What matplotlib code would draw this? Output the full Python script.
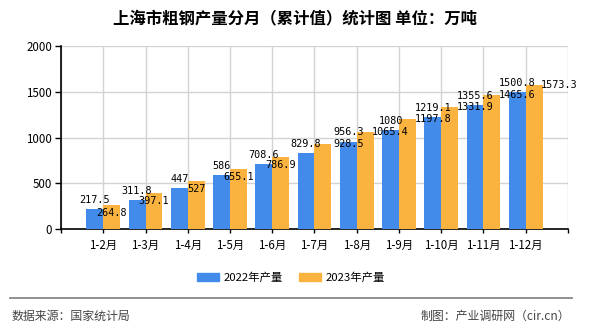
import matplotlib
matplotlib.use("Agg")
import matplotlib.pyplot as plt
from matplotlib.patches import Patch
from matplotlib.lines import Line2D

plt.rcParams['font.family'] = ['Noto Sans CJK SC', 'DejaVu Sans']

months = ["1-2月", "1-3月", "1-4月", "1-5月", "1-6月", "1-7月",
          "1-8月", "1-9月", "1-10月", "1-11月", "1-12月"]
y2022 = [217.5, 311.8, 447, 586, 708.6, 829.8, 956.3, 1080, 1219.1, 1355.6, 1500.8]
y2023 = [264.8, 397.1, 527, 655.1, 786.9, 928.5, 1065.4, 1197.8, 1331.9, 1465.6, 1573.3]
y_ticks = [0, 500, 1000, 1500, 2000]

c2022 = "#428BEA"
c2023 = "#FBB33F"

fig = plt.figure(figsize=(5.9, 3.3), dpi=100)
ax = fig.add_axes([0.1034, 0.306, 0.8593, 0.5546])

x = list(range(1, len(months) + 1))
w = 0.4
ax.bar([p - w / 2 for p in x], y2022, width=w, color=c2022, zorder=3)
ax.bar([p + w / 2 for p in x], y2023, width=w, color=c2023, zorder=3)

ax.set_xlim(0, len(months) + 1)
ax.set_ylim(0, 2000)
ax.set_yticks(y_ticks)
ax.set_yticklabels([str(v) for v in y_ticks], fontsize=8.3)
ax.set_xticks(range(0, len(months) + 2))
ax.set_xticklabels([""] + months + [""], fontsize=8.3)
ax.grid(True, color="#d3d3d3", linewidth=1, zorder=0)
ax.spines['top'].set_visible(False)
ax.spines['right'].set_visible(False)
ax.spines['left'].set_linewidth(1.2)
ax.spines['bottom'].set_linewidth(1.2)
ax.tick_params(axis='y', length=4.5, width=1, pad=2)
ax.tick_params(axis='x', length=3, width=1, pad=4.5)

mono = dict(family='DejaVu Sans Mono', fontsize=7.3, color='black')
for i, p in enumerate(x):
    ax.annotate(str(y2022[i]), (p - w / 2, y2022[i]), xytext=(0, 3),
                textcoords='offset points', ha='center', va='bottom', zorder=5, **mono)
    if i < 5:
        ax.annotate(str(y2023[i]), (p + w / 2, y2023[i]), xytext=(0, -6),
                    textcoords='offset points', ha='center', va='center', zorder=5, **mono)
    else:
        ax.annotate(str(y2023[i]), (p + 1 - w / 2, y2023[i]), xytext=(0, 0),
                    textcoords='offset points', ha='center', va='center', zorder=5, **mono)

fig.text(0.5, 1 - 18 / 330, "上海市粗钢产量分月（累计值）统计图 单位：万吨",
         ha='center', va='center', fontsize=11.8, fontweight='bold')

handles = [Patch(color=c2022, label="2022年产量"), Patch(color=c2023, label="2023年产量")]
fig.legend(handles=handles, loc='center', bbox_to_anchor=(291 / 590, 1 - 277.5 / 330),
           ncol=2, frameon=False, fontsize=8.2, handlelength=1.9, handleheight=0.74,
           handletextpad=0.45, columnspacing=1.4)

fig.add_artist(Line2D([10 / 590, 572 / 590], [1 - 297.5 / 330] * 2,
                      color="#888888", linewidth=1.3))
fig.text(12 / 590, 1 - 316 / 330, "数据来源：国家统计局", ha='left', va='center',
         fontsize=8.6, color="#444444")
fig.text(570 / 590, 1 - 316 / 330, "制图：产业调研网（cir.cn）", ha='right', va='center',
         fontsize=8.6, color="#444444")

fig.savefig("out.png", dpi=100)
